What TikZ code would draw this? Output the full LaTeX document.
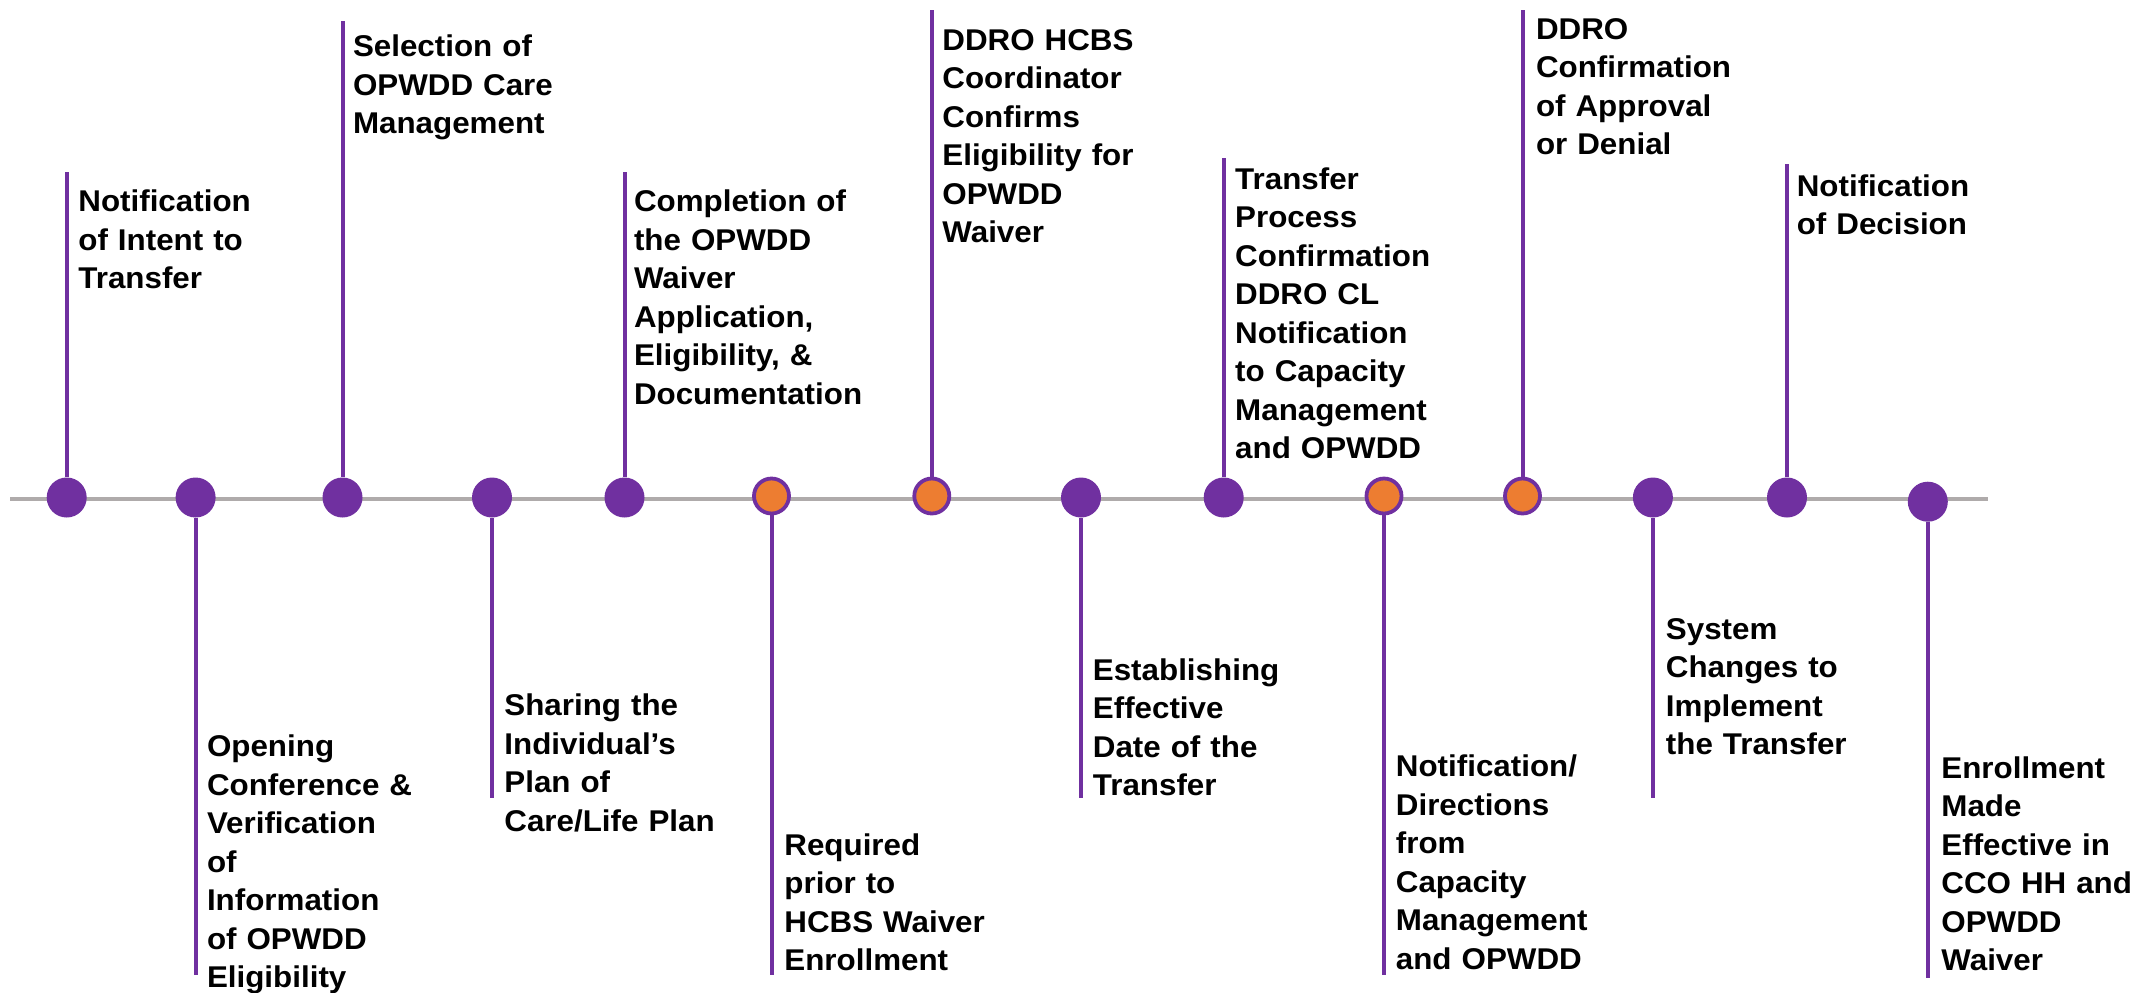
\documentclass[tikz,border=0pt]{standalone}
\usepackage{fontspec}
\setmainfont{Liberation Sans}[FakeStretch=1.045]
\definecolor{tlpurple}{RGB}{112,48,160}
\definecolor{tlorange}{RGB}{237,125,49}
\definecolor{tlgray}{RGB}{175,171,171}
\begin{document}
\begin{tikzpicture}[x=0.5pt,y=-0.5pt, line join=round,
		pdot/.style={circle,fill=tlpurple,inner sep=0pt,minimum size=20pt},
		odot/.style={circle,fill=tlorange,draw=tlpurple,line width=1.9pt,inner sep=0pt,minimum size=17.5pt},
		stem/.style={tlpurple,line width=2pt},
		lbl/.style={anchor=base west,inner sep=0pt,text width=120pt,align=left,
			font=\fontsize{15}{19.25}\selectfont\bfseries}]
				\useasboundingbox (0,0) rectangle (2133,992);
				% time axis
				\coordinate (axl) at (10,498.7);
				\coordinate (axr) at (1987.7,498.7);
				\draw[tlgray,line width=2pt] (axl)--(axr);
				% points on the axis
				\node[pdot] (d1) at (66.7,497.5) {};
				\node[pdot] (d2) at (195.6,497.5) {};
				\node[pdot] (d3) at (342.5,497.5) {};
				\node[pdot] (d4) at (492,497.5) {};
				\node[pdot] (d5) at (624.5,497.5) {};
				\node[odot] (d6) at (771.5,496) {};
				\node[odot] (d7) at (931.8,496) {};
				\node[pdot] (d8) at (1081,497.5) {};
				\node[pdot] (d9) at (1223.7,497.5) {};
				\node[odot] (d10) at (1384,496) {};
				\node[odot] (d11) at (1522.5,496) {};
				\node[pdot] (d12) at (1652.9,497.5) {};
				\node[pdot] (d13) at (1787,497.5) {};
				\node[pdot] (d14) at (1927.8,501.7) {};
				% ends of the stems
				\coordinate (t1) at (66.7,172.3);
				\coordinate (t2) at (195.6,975);
				\coordinate (t3) at (342.5,21);
				\coordinate (t4) at (492,798.3);
				\coordinate (t5) at (624.5,172.3);
				\coordinate (t6) at (771.5,975);
				\coordinate (t7) at (931.8,10);
				\coordinate (t8) at (1081,798.3);
				\coordinate (t9) at (1223.7,157.7);
				\coordinate (t10) at (1384,975);
				\coordinate (t11) at (1522.5,10);
				\coordinate (t12) at (1652.9,798.3);
				\coordinate (t13) at (1787,164);
				\coordinate (t14) at (1927.8,978.3);
				\draw[stem] (d1)--(t1);
				\draw[stem] (d2)--(t2);
				\draw[stem] (d3)--(t3);
				\draw[stem] (d4)--(t4);
				\draw[stem] (d5)--(t5);
				\draw[stem] (d6)--(t6);
				\draw[stem] (d7)--(t7);
				\draw[stem] (d8)--(t8);
				\draw[stem] (d9)--(t9);
				\draw[stem] (d10)--(t10);
				\draw[stem] (d11)--(t11);
				\draw[stem] (d12)--(t12);
				\draw[stem] (d13)--(t13);
				\draw[stem] (d14)--(t14);
				% labels
				\node[lbl] (l1) at (78,211.7) {Notification\\of Intent to\\Transfer};
				\node[lbl] (l2) at (206.6,756.7) {Opening\\Conference \&\\Verification\\of\\Information\\of OPWDD\\Eligibility};
				\node[lbl] (l3) at (352.6,56.7) {Selection of\\OPWDD Care\\Management};
				\node[lbl] (l4) at (504,715.7) {Sharing the\\Individual’s\\Plan of\\Care/Life Plan};
				\node[lbl] (l5) at (633.6,211.7) {Completion of\\the OPWDD\\Waiver\\Application,\\Eligibility, \&\\Documentation};
				\node[lbl] (l6) at (784,855) {Required\\prior to\\HCBS Waiver\\Enrollment};
				\node[lbl] (l7) at (942,50) {DDRO HCBS\\Coordinator\\Confirms\\Eligibility for\\OPWDD\\Waiver};
				\node[lbl] (l8) at (1092.5,680) {Establishing\\Effective\\Date of the\\Transfer};
				\node[lbl] (l9) at (1234.8,189.3) {Transfer\\Process\\Confirmation\\DDRO CL\\Notification\\to Capacity\\Management\\and OPWDD};
				\node[lbl] (l10) at (1395.5,776.7) {Notification/\\Directions\\from\\Capacity\\Management\\and OPWDD};
				\node[lbl] (l11) at (1535.6,39) {DDRO\\Confirmation\\of Approval\\or Denial};
				\node[lbl] (l12) at (1665.5,639.3) {System\\Changes to\\Implement\\the Transfer};
				\node[lbl] (l13) at (1796.4,196) {Notification\\of Decision};
				\node[lbl] (l14) at (1941,778.3) {Enrollment\\Made\\Effective in\\CCO HH and\\OPWDD\\Waiver};
			\end{tikzpicture}
\end{document}
